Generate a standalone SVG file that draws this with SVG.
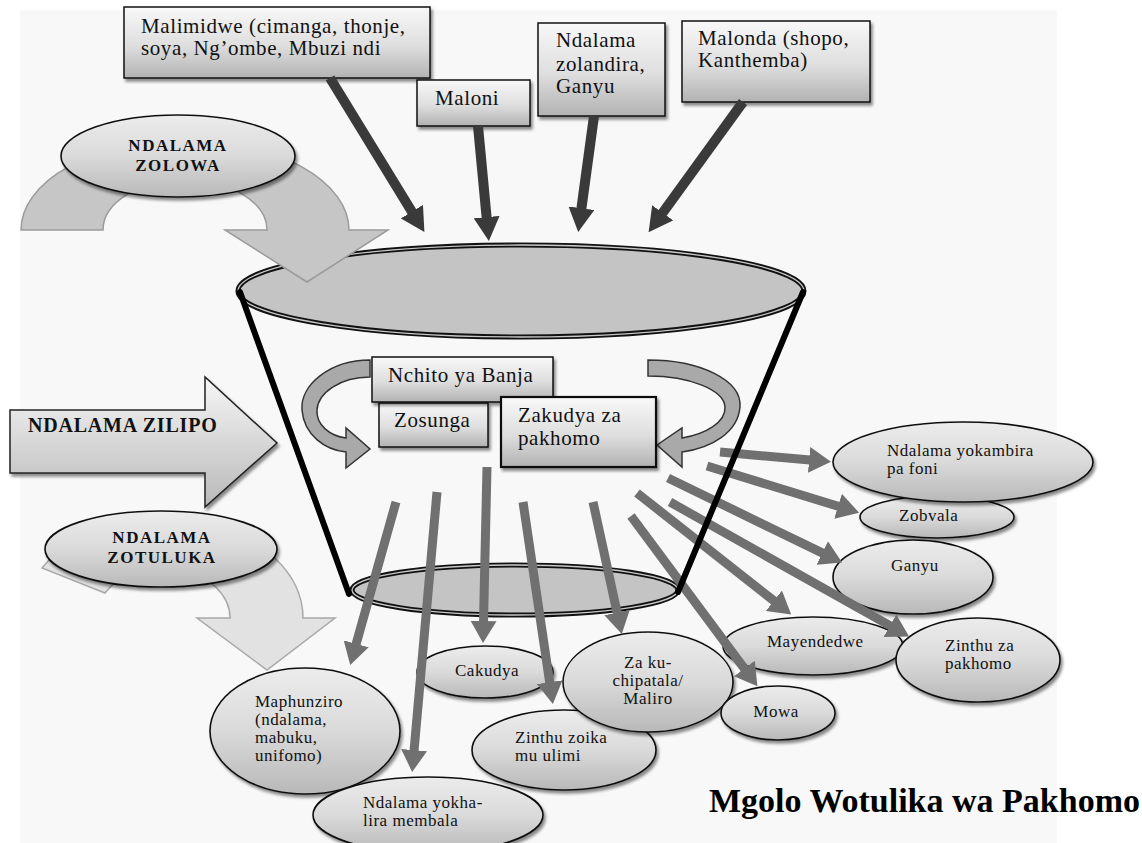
<svg xmlns="http://www.w3.org/2000/svg" width="1142" height="843" viewBox="0 0 1142 843">
<defs>
<linearGradient id="gBox" x1="0" y1="0" x2="0" y2="1"><stop offset="0" stop-color="#f8f8f8"/><stop offset="0.55" stop-color="#dedede"/><stop offset="1" stop-color="#b2b2b2"/></linearGradient>
<linearGradient id="gEll" x1="0" y1="0" x2="0" y2="1"><stop offset="0" stop-color="#ececec"/><stop offset="0.5" stop-color="#dadada"/><stop offset="1" stop-color="#b8b8b8"/></linearGradient>
<linearGradient id="gArr" x1="0" y1="0" x2="0" y2="1"><stop offset="0" stop-color="#f6f6f6"/><stop offset="1" stop-color="#b9b9b9"/></linearGradient>
<filter id="sh" x="-10%" y="-10%" width="125%" height="130%"><feDropShadow dx="2" dy="3" stdDeviation="1.5" flood-color="#000" flood-opacity="0.45"/></filter>
<marker id="mDark" markerUnits="userSpaceOnUse" viewBox="0 0 24 26" markerWidth="24" markerHeight="26" refX="1" refY="13" orient="auto"><path d="M0,0 L24,13 L0,26 Z" fill="#3a3a3a"/></marker>
<marker id="mGray" markerUnits="userSpaceOnUse" viewBox="0 0 22 26" markerWidth="22" markerHeight="26" refX="1" refY="13" orient="auto"><path d="M0,0 L22,13 L0,26 Z" fill="#707070"/></marker>
</defs>
<style>
.box{fill:url(#gBox);stroke:#111;stroke-width:1.5;filter:url(#sh)}
.ell{fill:url(#gEll);stroke:#111;stroke-width:1.6;filter:url(#sh)}
.t{font-family:"Liberation Serif","Times New Roman",serif;font-size:21px;fill:#111;letter-spacing:0.6px}
.e{font-family:"Liberation Serif","Times New Roman",serif;font-size:17px;fill:#111;letter-spacing:0.5px}
.b{font-family:"Liberation Serif","Times New Roman",serif;font-size:17px;font-weight:bold;fill:#111;letter-spacing:1.5px}
.dk{stroke:#3a3a3a;stroke-width:10;fill:none;marker-end:url(#mDark)}
.gr{stroke:#707070;stroke-width:9;fill:none;marker-end:url(#mGray)}
.rim{fill:#c4c4c4;stroke:#111;stroke-width:5}
.rim2{fill:none;stroke:#c8c8c8;stroke-width:1.3}
.side{stroke:#000;stroke-width:6;stroke-linecap:round}
.curl{fill:#a9a9a9;stroke:#333;stroke-width:1.5}
</style>
<rect x="20" y="10" width="1037" height="833" fill="#f8f8f8"/>

<g id="bucket-rims">
<ellipse class="rim" cx="521" cy="291" rx="283" ry="46"/>
<ellipse class="rim2" cx="521" cy="291" rx="283" ry="46"/>
<ellipse class="rim" cx="515" cy="590" rx="163" ry="25"/>
<ellipse class="rim2" cx="515" cy="590" rx="163" ry="25"/>
</g>

<g id="zolowa">
<path d="M21 230 A164 90 0 0 1 349 230 L388 230 L307 282 L225 230 L267 230 A82 50 0 0 0 103 230 Z" fill="#c6c6c6" stroke="#9a9a9a" stroke-width="1.5"/>
<ellipse class="ell" cx="178" cy="156" rx="117" ry="41"/>
<text class="b" text-anchor="middle"><tspan x="178" y="151">NDALAMA</tspan><tspan x="178" y="171">ZOLOWA</tspan></text>
</g>

<g id="zilipo">
<path d="M10 410 L205 410 L205 377 L277 443 L205 507 L205 473 L10 473 Z" fill="url(#gArr)" stroke="#222" stroke-width="1.5" filter="url(#sh)"/>
<text class="b" x="28" y="432" style="font-size:20px;letter-spacing:0.8px">NDALAMA ZILIPO</text>
</g>

<g id="zotuluka">
<path d="M42 568 A140 100 0 0 1 303 618 L335 618 L267 670 L197 618 L230 618 A67 50 0 0 0 105 593 Z" fill="#e2e2e2" stroke="#a8a8a8" stroke-width="1.5"/>
<ellipse class="ell" cx="161" cy="549" rx="116" ry="38"/>
<text class="b" text-anchor="middle"><tspan x="162" y="543">NDALAMA</tspan><tspan x="162" y="563">ZOTULUKA</tspan></text>
</g>

<g id="curl-left"><path class="curl" d="M370 360 C330 360 300 385 302 410 C304 435 325 450 346 452 L346 468 L370 449 L346 428 L346 438 C330 436 316 425 317 410 C318 393 340 377 370 377 Z"/></g>
<g id="curl-right"><path class="curl" d="M648 360 C700 360 742 380 740 407 C738 432 712 448 682 452 L682 467 L657 445 L682 428 L682 438 C706 434 726 422 725 407 C724 390 690 376 648 376 Z"/></g>

<g id="n-zosunga"><rect class="box" x="379" y="403" width="109" height="44"/><text class="t" x="394" y="427">Zosunga</text></g>
<g id="n-nchito"><rect class="box" x="372" y="357" width="181" height="45"/><text class="t" x="388" y="382">Nchito ya Banja</text></g>
<g id="n-zakudya"><rect class="box" x="501" y="397" width="155" height="70" style="stroke-width:2.2"/><text class="t"><tspan x="518" y="422">Zakudya za</tspan><tspan x="518" y="445">pakhomo</tspan></text></g>

<g id="n-malimidwe"><rect class="box" x="124" y="7" width="306" height="71"/><text class="t"><tspan x="141" y="33">Malimidwe (cimanga, thonje,</tspan><tspan x="141" y="55">soya, Ng’ombe, Mbuzi ndi</tspan></text></g>
<g id="n-maloni"><rect class="box" x="417" y="80" width="113" height="46"/><text class="t" x="435" y="105">Maloni</text></g>
<g id="n-zolandira"><rect class="box" x="538" y="23" width="127" height="93"/><text class="t"><tspan x="556" y="47">Ndalama</tspan><tspan x="556" y="71">zolandira,</tspan><tspan x="556" y="93">Ganyu</tspan></text></g>
<g id="n-malonda"><rect class="box" x="682" y="21" width="188" height="81"/><text class="t"><tspan x="698" y="45">Malonda (shopo,</tspan><tspan x="698" y="67">Kanthemba)</tspan></text></g>

<g id="n-zobvala"><ellipse class="ell" cx="937" cy="517" rx="77" ry="21"/><text class="e" x="899" y="521">Zobvala</text></g>
<g id="n-foni"><ellipse class="ell" cx="963" cy="462" rx="130" ry="40"/><text class="e"><tspan x="887" y="456">Ndalama yokambira</tspan><tspan x="887" y="474">pa foni</tspan></text></g>
<g id="n-ganyu"><ellipse class="ell" cx="913" cy="577" rx="80" ry="37"/><text class="e" x="891" y="571">Ganyu</text></g>
<g id="n-mayendedwe"><ellipse class="ell" cx="813" cy="646" rx="90" ry="29"/><text class="e" x="767" y="647">Mayendedwe</text></g>
<g id="n-pakhomo"><ellipse class="ell" cx="978" cy="660" rx="82" ry="42"/><text class="e"><tspan x="945" y="651">Zinthu za</tspan><tspan x="945" y="669">pakhomo</tspan></text></g>
<g id="n-cakudya"><ellipse class="ell" cx="485" cy="672" rx="68" ry="26"/><text class="e" x="455" y="676">Cakudya</text></g>
<g id="n-zoika"><ellipse class="ell" cx="564" cy="750" rx="92" ry="40"/><text class="e"><tspan x="515" y="743">Zinthu zoika</tspan><tspan x="515" y="761">mu ulimi</tspan></text></g>
<g id="n-chipatala"><ellipse class="ell" cx="648" cy="682" rx="85" ry="50"/><text class="e" text-anchor="middle"><tspan x="648" y="668">Za ku-</tspan><tspan x="648" y="686">chipatala/</tspan><tspan x="648" y="704">Maliro</tspan></text></g>
<g id="n-mowa"><ellipse class="ell" cx="778" cy="713" rx="57" ry="27"/><text class="e" x="776" y="717" text-anchor="middle">Mowa</text></g>
<g id="n-maphunziro"><ellipse class="ell" cx="305" cy="731" rx="95" ry="63"/><text class="e"><tspan x="255" y="707">Maphunziro</tspan><tspan x="255" y="725">(ndalama,</tspan><tspan x="255" y="743">mabuku,</tspan><tspan x="255" y="761">unifomo)</tspan></text></g>
<g id="n-membala"><ellipse class="ell" cx="428" cy="815" rx="115" ry="38"/><text class="e"><tspan x="363" y="808">Ndalama yokha-</tspan><tspan x="363" y="826">lira membala</tspan></text></g>

<g id="connectors">
<line class="gr" x1="396" y1="502" x2="355.9" y2="644.8"/>
<line class="gr" x1="437" y1="492" x2="414" y2="751.1"/>
<line class="gr" x1="487" y1="467" x2="483.5" y2="622"/>
<line class="gr" x1="523" y1="502" x2="549.8" y2="683.2"/>
<line class="gr" x1="593" y1="502" x2="617.3" y2="613.5"/>
<line class="gr" x1="631" y1="516" x2="744.9" y2="669.3"/>
<line class="gr" x1="637" y1="493" x2="774.7" y2="601.4"/>
<line class="gr" x1="670" y1="502" x2="890.8" y2="626.2"/>
<line class="gr" x1="668" y1="478" x2="823.2" y2="553.4"/>
<line class="gr" x1="707" y1="466" x2="839" y2="506.5"/>
<line class="gr" x1="720" y1="452" x2="810.1" y2="460"/>
<line class="dk" x1="330" y1="78" x2="412.4" y2="212.5"/>
<line class="dk" x1="478" y1="126" x2="486.7" y2="218.1"/>
<line class="dk" x1="594" y1="116" x2="581.3" y2="209.2"/>
<line class="dk" x1="743" y1="102" x2="662.1" y2="213.6"/>
</g>

<g id="bucket-sides">
<line class="side" x1="240" y1="292" x2="349" y2="594"/>
<line class="side" x1="803" y1="292" x2="678" y2="592"/>
</g>

<text id="title" x="1140" y="812" text-anchor="end" style="font-family:'Liberation Serif','Times New Roman',serif;font-size:34px;font-weight:bold;fill:#000">Mgolo Wotulika wa Pakhomo</text>
</svg>
